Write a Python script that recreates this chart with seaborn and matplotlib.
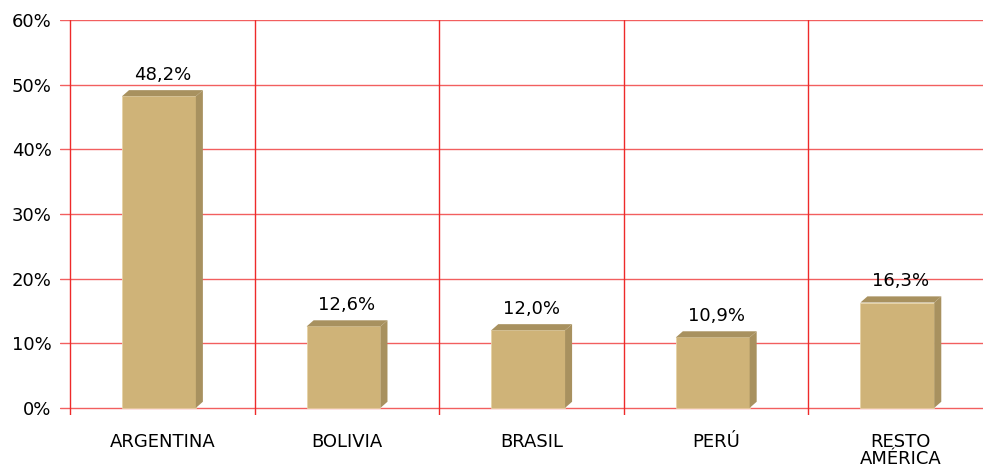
import matplotlib
matplotlib.use("Agg")
import matplotlib.pyplot as plt
from matplotlib.patches import Polygon
import seaborn as sns
import pandas as pd

paises = ["ARGENTINA", "BOLIVIA", "BRASIL", "PERÚ", "RESTO\nAMÉRICA"]
porcentajes = [48.2, 12.6, 12.0, 10.9, 16.3]
etiquetas = ["48,2%", "12,6%", "12,0%", "10,9%", "16,3%"]
yticks = [0, 10, 20, 30, 40, 50, 60]

frente = "#cfb378"
lado = "#a8915f"
rojo = "#ee2a2a"

sns.set_style("white")
plt.rcParams["font.family"] = ["DejaVu Sans"]

df = pd.DataFrame({"pais": paises, "valor": porcentajes})

fig = plt.figure(figsize=(9.83, 4.71), dpi=100)
ax = fig.add_axes([60 / 983, 1 - 415 / 471, 1 - 60 / 983, (415 - 20) / 471])

sns.barplot(data=df, x="pais", y="valor", color=frente, width=0.4,
            saturation=1, ax=ax, zorder=3)

ax.set_xlim(-0.554, 4.446)
ax.set_ylim(-1.1, 60)

# rejilla roja
for t in yticks:
    ax.axhline(t, color=rojo, lw=1, alpha=0.75, zorder=1)
for i in range(len(paises) + 1):
    ax.axvline(i - 0.5, color=rojo, lw=1, zorder=1)

# caras laterales y superiores (efecto 3D)
dx, dy = 0.038, 0.95
for p, lab in zip(ax.patches, etiquetas):
    p.set_x(p.get_x() - 0.018)
    p.set_edgecolor("#e6d3a6")
    p.set_linewidth(0.6)
    x0, w, h = p.get_x(), p.get_width(), p.get_height()
    x1 = x0 + w
    side = Polygon([(x1, 0), (x1 + dx, dy), (x1 + dx, h + dy), (x1, h)],
                   closed=True, facecolor=lado, edgecolor="none", zorder=3)
    top = Polygon([(x0, h), (x0 + dx, h + dy), (x1 + dx, h + dy), (x1, h)],
                  closed=True, facecolor=lado, edgecolor="none", zorder=3)
    ax.add_patch(side)
    ax.add_patch(top)
    ax.text(x0 + w / 2 + dx / 2, h + dy + 1.0, lab, ha="center", va="bottom",
            fontsize=13, color="black", zorder=4)

ax.set_yticks(yticks)
ax.set_yticklabels([f"{t}%" for t in yticks], fontsize=13, color="black")
ax.set_xticks(range(len(paises)))
ax.set_xticklabels(paises, fontsize=13, linespacing=0.95, color="black")
ax.tick_params(axis="y", length=0, pad=6)
ax.tick_params(axis="x", length=0, pad=13)
ax.set_xlabel("")
ax.set_ylabel("")
sns.despine(ax=ax, left=True, bottom=True)

fig.savefig("out.png", dpi=100)
